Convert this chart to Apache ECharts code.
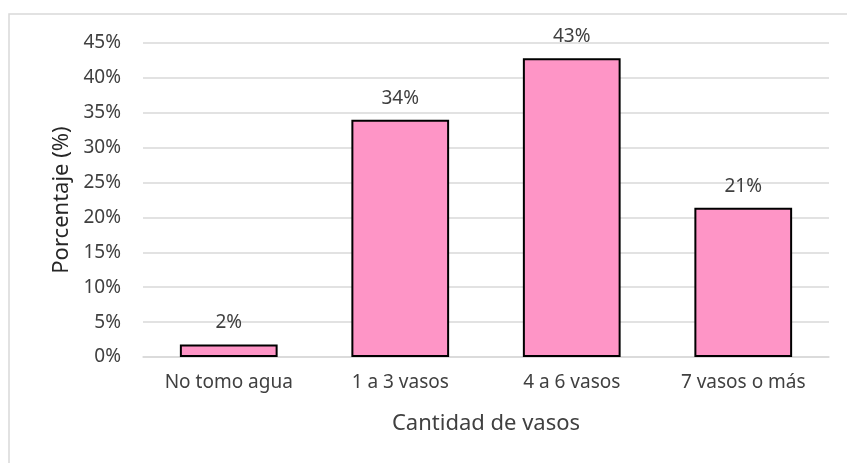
<!DOCTYPE html>
<html><head><meta charset="utf-8">
<script src="https://cdn.jsdelivr.net/npm/echarts@6/dist/echarts.min.js"></script>
<style>html,body{margin:0;padding:0;background:#fff}#c{width:847px;height:463px}</style>
</head><body><div id="c"></div>
<script>
var categories = ['No tomo agua', '1 a 3 vasos', '4 a 6 vasos', '7 vasos o más'];
var values = [1.8, 34.0, 42.8, 21.4];
var xTitle = 'Cantidad de vasos';
var yTitle = 'Porcentaje (%)';
var FONT = 'Noto Sans';
var chart = echarts.init(document.getElementById('c'));
chart.setOption({
  animation: false,
  textStyle: {fontFamily: FONT},
  graphic: [{type: 'rect', shape: {x: 9, y: 14, width: 850, height: 460}, style: {fill: 'none', stroke: '#D9D9D9', lineWidth: 1.5}, silent: true}],
  grid: {left: 143, right: 18, top: 43, bottom: 106},
  xAxis: {
    type: 'category', data: categories,
    axisLine: {lineStyle: {color: '#D9D9D9', width: 1.5}},
    axisTick: {show: false},
    axisLabel: {color: '#404040', fontSize: 19, margin: 16, fontFamily: FONT},
    name: xTitle, nameLocation: 'middle', nameGap: 56,
    nameTextStyle: {color: '#404040', fontSize: 22, fontFamily: FONT}
  },
  yAxis: {
    type: 'value', min: 0, max: 45, interval: 5,
    axisLabel: {formatter: '{value}%', color: '#404040', fontSize: 19, margin: 22, fontFamily: FONT},
    splitLine: {lineStyle: {color: '#D9D9D9', width: 1.5}},
    axisLine: {show: false}, axisTick: {show: false},
    name: yTitle, nameLocation: 'middle', nameGap: 70, nameRotate: 90,
    nameTextStyle: {color: '#262626', fontSize: 22, fontFamily: FONT}
  },
  series: [{
    type: 'bar', data: values, barWidth: '57%',
    itemStyle: {color: '#FE95C6', borderColor: '#000', borderWidth: 2},
    label: {show: true, position: 'top', distance: 12, color: '#404040', fontSize: 19, fontFamily: FONT,
      formatter: function (p) { return Math.round(p.value) + '%'; }}
  }]
});
</script></body></html>
